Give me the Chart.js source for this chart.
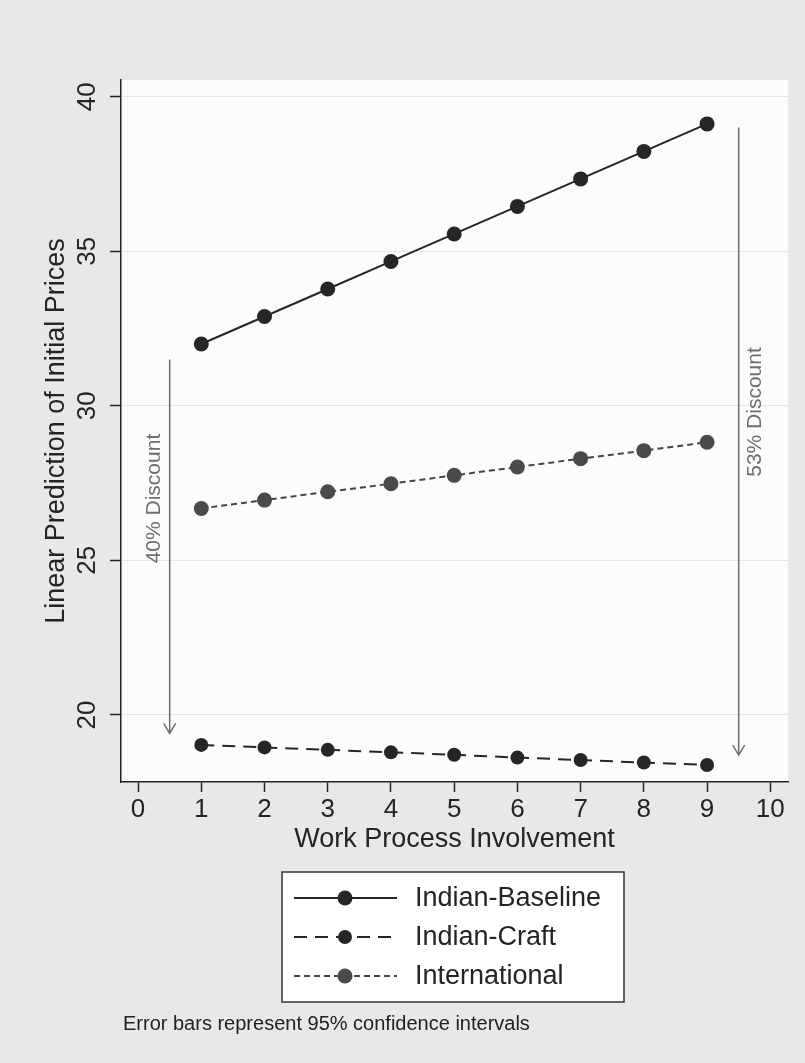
<!DOCTYPE html>
<html>
<head>
<meta charset="utf-8">
<script src="https://cdn.jsdelivr.net/npm/chart.js@4.4.1/dist/chart.umd.min.js"></script>
<style>
  html, body { margin: 0; padding: 0; background: #e8e8e8; }
  #wrap { width: 805px; height: 1063px; }
</style>
</head>
<body>
<div id="wrap"><canvas id="chart"></canvas></div>
<script>
// data
const involvement = [1, 2, 3, 4, 5, 6, 7, 8, 9];
const baseline = [32.0, 32.89, 33.78, 34.67, 35.56, 36.45, 37.34, 38.23, 39.12];
const craft = [19.03, 18.95, 18.87, 18.79, 18.71, 18.62, 18.54, 18.46, 18.38];
const international = [26.68, 26.95, 27.22, 27.48, 27.75, 28.02, 28.29, 28.55, 28.82];
const seriesNames = ["Indian-Baseline", "Indian-Craft", "International"];

const xTicks = [0, 1, 2, 3, 4, 5, 6, 7, 8, 9, 10];
const yTicks = [20, 25, 30, 35, 40];

// discount arrows
const arrowX = [0.5, 9.5];
const arrowFrom = [31.5, 39.0];
const arrowTo = [19.4, 18.7];
const arrowLabels = ["40% Discount", "53% Discount"];
const arrowLabelY = [27.0, 29.8];

const noteText = "Error bars represent 95% confidence intervals";

const FONT = "'Liberation Sans', Arial, Helvetica, sans-serif";
const ink = "#242424";

const backgroundPlugin = {
  id: "bg",
  beforeDraw(chart) {
    const { ctx, chartArea: a } = chart;
    ctx.save();
    ctx.fillStyle = "#e8e8e8";
    ctx.fillRect(0, 0, chart.width, chart.height);
    ctx.fillStyle = "#fcfcfc";
    ctx.fillRect(a.left, a.top, a.right - a.left, a.bottom - a.top);
    ctx.restore();
  }
};

// y tick labels are rotated like the original
const yLabelPlugin = {
  id: "ylabels",
  afterDraw(chart) {
    const { ctx } = chart;
    const y = chart.scales.y;
    ctx.save();
    ctx.fillStyle = ink;
    ctx.font = "26px " + FONT;
    ctx.textAlign = "center";
    ctx.textBaseline = "middle";
    y.ticks.forEach((t) => {
      const py = y.getPixelForValue(t.value);
      ctx.save();
      ctx.translate(88, py);
      ctx.rotate(-Math.PI / 2);
      ctx.fillText(String(t.value), 0, 0);
      ctx.restore();
    });
    ctx.restore();
  }
};

const arrowPlugin = {
  id: "arrows",
  afterDatasetsDraw(chart) {
    const { ctx, scales } = chart;
    ctx.save();
    ctx.strokeStyle = "#6f6f6f";
    ctx.fillStyle = "#6f6f6f";
    ctx.lineWidth = 1.5;
    arrowX.forEach((xv, i) => {
      const px = scales.x.getPixelForValue(xv);
      const y0 = scales.y.getPixelForValue(arrowFrom[i]);
      const y1 = scales.y.getPixelForValue(arrowTo[i]);
      ctx.beginPath();
      ctx.moveTo(px, y0);
      ctx.lineTo(px, y1);
      ctx.moveTo(px - 6, y1 - 10);
      ctx.lineTo(px, y1);
      ctx.lineTo(px + 6, y1 - 10);
      ctx.stroke();

      const side = i === 0 ? -15 : 17;
      const ly = scales.y.getPixelForValue(arrowLabelY[i]);
      ctx.save();
      ctx.translate(px + side, ly);
      ctx.rotate(-Math.PI / 2);
      ctx.font = "21px " + FONT;
      ctx.textAlign = "center";
      ctx.textBaseline = "middle";
      ctx.fillText(arrowLabels[i], 0, 0);
      ctx.restore();
    });
    ctx.restore();
  }
};

const legendPlugin = {
  id: "boxlegend",
  afterDraw(chart) {
    const { ctx } = chart;
    const box = { x: 282, y: 872, w: 342, h: 130 };
    ctx.save();
    ctx.fillStyle = "#ffffff";
    ctx.fillRect(box.x, box.y, box.w, box.h);
    ctx.strokeStyle = "#333";
    ctx.lineWidth = 1.5;
    ctx.strokeRect(box.x, box.y, box.w, box.h);
    chart.data.datasets.forEach((ds, i) => {
      const cy = 898 + i * 39;
      ctx.save();
      ctx.strokeStyle = ds.borderColor;
      ctx.lineWidth = ds.borderWidth;
      ctx.setLineDash(ds.borderDash || []);
      ctx.beginPath();
      ctx.moveTo(294, cy);
      ctx.lineTo(397, cy);
      ctx.stroke();
      ctx.setLineDash([]);
      ctx.fillStyle = ds.pointBackgroundColor;
      ctx.beginPath();
      ctx.arc(345, cy, ds.pointRadius, 0, Math.PI * 2);
      ctx.fill();
      ctx.restore();
      ctx.fillStyle = ink;
      ctx.font = "27px " + FONT;
      ctx.textAlign = "left";
      ctx.textBaseline = "middle";
      ctx.fillText(ds.label, 415, cy + 1);
    });
    ctx.font = "20px " + FONT;
    ctx.fillStyle = "#222";
    ctx.textBaseline = "middle";
    ctx.fillText(noteText, 123, 1024);
    ctx.restore();
  }
};

const toPoints = (ys) => involvement.map((x, i) => ({ x: x, y: ys[i] }));

new Chart(document.getElementById("chart"), {
  type: "line",
  data: {
    datasets: [
      {
        label: seriesNames[0],
        data: toPoints(baseline),
        borderColor: "#262626",
        borderWidth: 2,
        pointBackgroundColor: "#262626",
        pointBorderWidth: 0,
        pointRadius: 7.5
      },
      {
        label: seriesNames[1],
        data: toPoints(craft),
        borderColor: "#262626",
        borderWidth: 2,
        borderDash: [13, 8],
        pointBackgroundColor: "#262626",
        pointBorderWidth: 0,
        pointRadius: 7
      },
      {
        label: seriesNames[2],
        data: toPoints(international),
        borderColor: "#454545",
        borderWidth: 2,
        borderDash: [6, 4],
        pointBackgroundColor: "#4a4a4a",
        pointBorderWidth: 0,
        pointRadius: 7.5
      }
    ]
  },
  options: {
    responsive: true,
    maintainAspectRatio: false,
    animation: false,
    layout: { padding: { top: 80, right: 17, bottom: 207, left: 0 } },
    plugins: {
      legend: { display: false },
      tooltip: { enabled: false }
    },
    scales: {
      x: {
        type: "linear",
        min: -0.27,
        max: 10.28,
        afterBuildTicks: (axis) => { axis.ticks = xTicks.map((v) => ({ value: v })); },
        afterFit: (s) => { s.height = 74; },
        grid: { display: true, drawOnChartArea: false, tickLength: 10, tickColor: ink, tickWidth: 1.5 },
        border: { display: true, color: ink, width: 1.5 },
        ticks: { color: ink, font: { family: FONT, size: 26 }, padding: 2, maxRotation: 0 },
        title: { display: true, text: "Work Process Involvement", color: ink, font: { family: FONT, size: 27 }, padding: { top: 2, bottom: 0 } }
      },
      y: {
        min: 17.83,
        max: 40.54,
        afterBuildTicks: (axis) => { axis.ticks = yTicks.map((v) => ({ value: v })); },
        afterFit: (s) => { s.width = 121; },
        grid: { color: "#e6e6e6", lineWidth: 1, tickLength: 11, tickColor: ink, tickWidth: 1.5 },
        border: { display: true, color: ink, width: 1.5 },
        ticks: { display: false },
        title: { display: true, text: "Linear Prediction of Initial Prices", color: ink, font: { family: FONT, size: 27 }, padding: { top: 40, bottom: 0 } }
      }
    }
  },
  plugins: [backgroundPlugin, yLabelPlugin, arrowPlugin, legendPlugin]
});
</script>
</body>
</html>
